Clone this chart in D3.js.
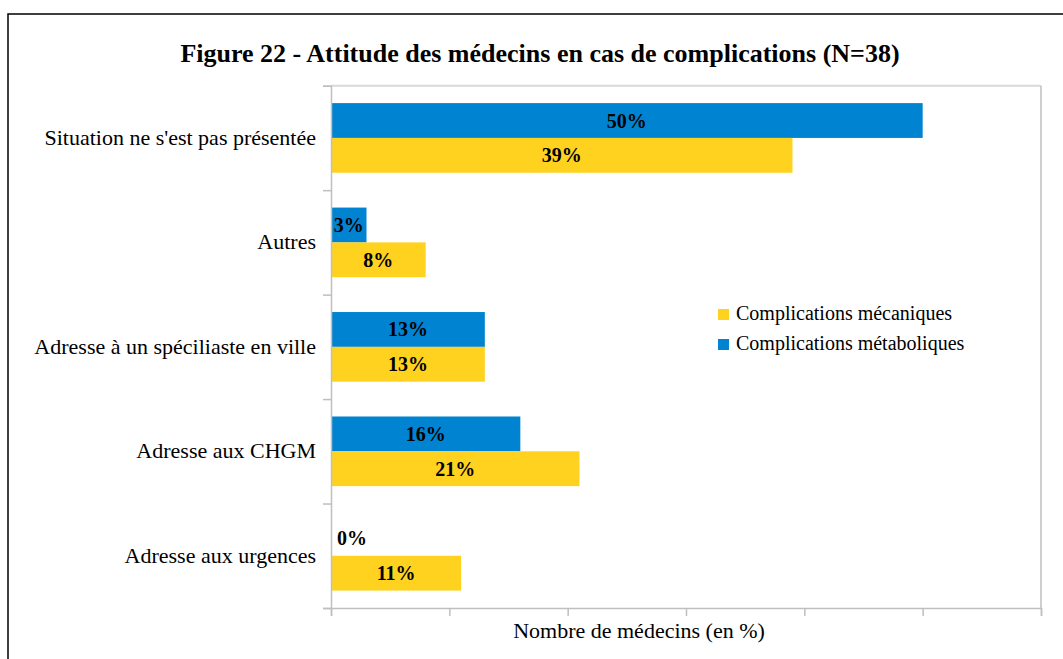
<!DOCTYPE html>
<html><head><meta charset="utf-8">
<script src="https://cdn.jsdelivr.net/npm/d3@7"></script>
<style>body{margin:0;background:#fff;} svg{display:block;}</style>
</head><body>
<svg id="c" width="1063" height="659"></svg>
<script>
const categories = ["Situation ne s'est pas présentée", "Autres", "Adresse à un spéciliaste en ville", "Adresse aux CHGM", "Adresse aux urgences"];
const seriesNames = ["Complications métaboliques", "Complications mécaniques"];
const metaboliques = [50, 3, 13, 16, 0];
const mecaniques = [39, 8, 13, 21, 11];
const xTicks = [0, 10, 20, 30, 40, 50, 60];
const colors = {"Complications métaboliques": "#0083d1", "Complications mécaniques": "#ffd21f"};
const legendOrder = ["Complications mécaniques", "Complications métaboliques"];

const svg = d3.select("#c");
const font = "'Liberation Serif','Times New Roman',serif";
const L = 331, R = 1041, T = 85.7, B = 608;

// outer frame
svg.append("rect").attr("x", 8).attr("y", 14).attr("width", 1100).attr("height", 700)
  .attr("fill", "none").attr("stroke", "#000").attr("stroke-width", 1.5);

svg.append("text").attr("x", 540).attr("y", 62).attr("text-anchor", "middle")
  .attr("font-family", font).attr("font-weight", "bold").attr("font-size", 26)
  .text("Figure 22 - Attitude des médecins en cas de complications (N=38)");

const x = d3.scaleLinear().domain([0, 60]).range([L, R]);
const y = d3.scaleBand().domain(categories).range([T, B]).paddingInner(1/3).paddingOuter(1/6);
const ySub = d3.scaleBand().domain(seriesNames).range([0, y.bandwidth()]);

// plot border top/right
svg.append("line").attr("x1", L).attr("x2", R).attr("y1", T).attr("y2", T).attr("stroke", "#d9d9d9").attr("stroke-width", 2);
svg.append("line").attr("x1", R).attr("x2", R).attr("y1", T).attr("y2", B).attr("stroke", "#bfbfbf").attr("stroke-width", 1.5);

const data = [];
categories.forEach((c, i) => {
  data.push({cat: c, s: "Complications métaboliques", v: metaboliques[i]});
  data.push({cat: c, s: "Complications mécaniques", v: mecaniques[i]});
});

svg.append("g").selectAll("rect").data(data).join("rect")
  .attr("x", x(0)).attr("y", d => y(d.cat) + ySub(d.s))
  .attr("width", d => x(d.v) - x(0)).attr("height", ySub.bandwidth())
  .attr("fill", d => colors[d.s]);

svg.append("g").selectAll("text").data(data).join("text")
  .attr("x", d => d.v === 0 ? x(0) + 21 : (x(0) + x(d.v)) / 2)
  .attr("y", d => y(d.cat) + ySub(d.s) + ySub.bandwidth() / 2 + 7)
  .attr("text-anchor", "middle").attr("font-family", font).attr("font-weight", "bold").attr("font-size", 20)
  .attr("fill", "#000").text(d => d.v + "%");

// x axis
const xAxis = svg.append("g").attr("transform", `translate(0,${B})`)
  .call(d3.axisBottom(x).tickValues(xTicks).tickSize(8).tickFormat(""));
xAxis.select(".domain").attr("stroke", "#bfbfbf").attr("stroke-width", 1.5);
xAxis.selectAll(".tick line").attr("stroke", "#bfbfbf").attr("stroke-width", 1.5);

// y axis with ticks at band boundaries
const yEdge = d3.scaleLinear().domain([0, categories.length]).range([T, B]);
const yAxis = svg.append("g").attr("transform", `translate(${L},0)`)
  .call(d3.axisLeft(yEdge).ticks(categories.length).tickSize(8).tickFormat(""));
yAxis.select(".domain").attr("stroke", "#bfbfbf").attr("stroke-width", 1.5);
yAxis.selectAll(".tick line").attr("stroke", "#bfbfbf").attr("stroke-width", 1.5);

svg.append("g").selectAll("text").data(categories).join("text")
  .attr("x", 316).attr("y", d => y(d) + y.bandwidth() / 2 + 7)
  .attr("text-anchor", "end").attr("font-family", font).attr("font-size", 22).attr("fill", "#000")
  .text(d => d);

svg.append("text").attr("x", 639).attr("y", 638).attr("text-anchor", "middle")
  .attr("font-family", font).attr("font-size", 22).attr("fill", "#000")
  .text("Nombre de médecins (en %)");

const lg = svg.append("g").selectAll("g").data(legendOrder).join("g")
  .attr("transform", (d, i) => `translate(718,${309 + i * 30})`);
lg.append("rect").attr("width", 11).attr("height", 11).attr("fill", d => colors[d]);
lg.append("text").attr("x", 18).attr("y", 10.5).attr("font-family", font).attr("font-size", 20).attr("fill", "#000").text(d => d);
</script>
</body></html>
